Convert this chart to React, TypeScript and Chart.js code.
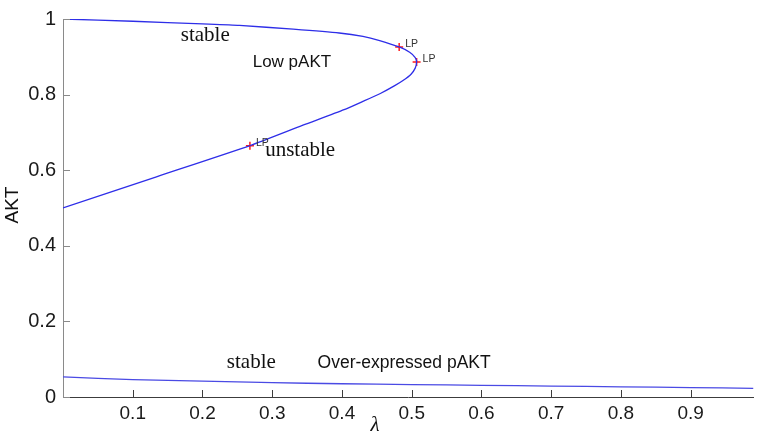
import React, { useEffect, useRef } from "react";
import { Chart, registerables } from "chart.js";

Chart.register(...registerables);

// Fold branch (upper stable branch -> limit points -> lower unstable branch)
const foldLambda = [0, 0.1, 0.2, 0.253, 0.33, 0.396, 0.43, 0.454, 0.482, 0.497, 0.505, 0.507, 0.505, 0.499, 0.488, 0.475, 0.455, 0.43, 0.403, 0.344, 0.268, 0.134, 0];
const foldAkt = [1.0, 0.994, 0.987, 0.983, 0.973, 0.963, 0.954, 0.943, 0.926, 0.912, 0.898, 0.886, 0.870, 0.854, 0.838, 0.823, 0.803, 0.782, 0.760, 0.719, 0.665, 0.5825, 0.5];

// Lower stable branch (over-expressed pAKT)
const lowLambda = [0, 0.1, 0.2, 0.3, 0.4, 0.5, 0.6, 0.7, 0.8, 0.9, 0.99];
const lowAkt = [0.053, 0.046, 0.042, 0.038, 0.035, 0.033, 0.031, 0.029, 0.027, 0.025, 0.023];

// Limit points
const lpLambda = [0.482, 0.507, 0.268];
const lpAkt = [0.926, 0.886, 0.665];
const lpLabels = ["LP", "LP", "LP"];

// Axis ticks
const xTickValues = [0.1, 0.2, 0.3, 0.4, 0.5, 0.6, 0.7, 0.8, 0.9];
const xTickLabels = ["0.1", "0.2", "0.3", "0.4", "0.5", "0.6", "0.7", "0.8", "0.9"];
const yTickValues = [0, 0.2, 0.4, 0.6, 0.8, 1];
const yTickLabels = ["0", "0.2", "0.4", "0.6", "0.8", "1"];

// Annotation texts (data coordinates)
const notes = [
  { text: "stable", x: 0.204, y: 0.941, font: "21px 'Liberation Serif'", align: "center" },
  { text: "Low pAKT", x: 0.272, y: 0.873, font: "17px 'Liberation Sans'", align: "left" },
  { text: "unstable", x: 0.340, y: 0.637, font: "21px 'Liberation Serif'", align: "center" },
  { text: "stable", x: 0.270, y: 0.0754, font: "21px 'Liberation Serif'", align: "center" },
  { text: "Over-expressed pAKT", x: 0.365, y: 0.078, font: "17.5px 'Liberation Sans'", align: "left" },
];

const pts = (xs: number[], ys: number[]) => xs.map((x, i) => ({ x, y: ys[i] }));

const decorPlugin = {
  id: "decor",
  afterDatasetsDraw(chart: any) {
    const { ctx, chartArea, scales } = chart;
    const xs = scales.x;
    const ys = scales.y;
    ctx.save();
    // inward ticks
    ctx.lineWidth = 1;
    ctx.strokeStyle = "#3c3c3c";
    xTickValues.forEach((v) => {
      const px = Math.round(xs.getPixelForValue(v)) + 0.5;
      ctx.beginPath();
      ctx.moveTo(px, chartArea.bottom);
      ctx.lineTo(px, chartArea.bottom - 7);
      ctx.stroke();
    });
    ctx.strokeStyle = "#8a8a8a";
    yTickValues.forEach((v) => {
      const py = Math.round(ys.getPixelForValue(v)) + 0.5;
      ctx.beginPath();
      ctx.moveTo(chartArea.left, py);
      ctx.lineTo(chartArea.left + 7, py);
      ctx.stroke();
    });
    // annotations
    ctx.fillStyle = "#111";
    ctx.textBaseline = "alphabetic";
    notes.forEach((n) => {
      ctx.font = n.font;
      ctx.textAlign = n.align;
      ctx.fillText(n.text, xs.getPixelForValue(n.x), ys.getPixelForValue(n.y));
    });
    // LP labels
    ctx.font = "10.5px 'Liberation Sans'";
    ctx.textAlign = "left";
    ctx.fillStyle = "#333";
    lpLambda.forEach((v, i) => {
      ctx.fillText(lpLabels[i], xs.getPixelForValue(v) + 6, ys.getPixelForValue(lpAkt[i]) + 0);
    });
    // axis titles
    ctx.fillStyle = "#111";
    ctx.font = "19px 'Liberation Sans'";
    ctx.textAlign = "center";
    ctx.textBaseline = "middle";
    ctx.save();
    ctx.translate(13, 205);
    ctx.rotate(-Math.PI / 2);
    ctx.fillText("AKT", 0, 0);
    ctx.restore();
    ctx.font = "italic 21px 'Liberation Serif'";
    ctx.fillText("λ", 375, 425);
    ctx.restore();
  },
};

export default function App() {
  const ref = useRef<HTMLCanvasElement>(null);
  useEffect(() => {
    document.body.style.margin = "0";
    const canvas = ref.current!;
    const chart = new Chart(canvas, {
      type: "scatter",
      data: {
        datasets: [
          {
            data: pts(foldLambda, foldAkt),
            showLine: true,
            borderColor: "#2e2ee8",
            borderWidth: 1.3,
            pointRadius: 0,
            tension: 0.2,
          },
          {
            data: pts(lowLambda, lowAkt),
            showLine: true,
            borderColor: "#4a4ae4",
            borderWidth: 1.3,
            pointRadius: 0,
            tension: 0.2,
          },
          {
            data: pts(lpLambda, lpAkt),
            showLine: false,
            pointStyle: "cross",
            pointRadius: 4,
            borderColor: "#ff1a1a",
            borderWidth: 1.5,
          },
        ],
      },
      options: {
        responsive: false,
        animation: false,
        devicePixelRatio: 1,
        layout: { padding: { top: 12, right: 3, left: 0, bottom: 0 } },
        plugins: { legend: { display: false }, tooltip: { enabled: false } },
        scales: {
          x: {
            type: "linear",
            min: 0,
            max: 0.99,
            afterBuildTicks: (s: any) => {
              s.ticks = xTickValues.map((v) => ({ value: v }));
            },
            afterFit: (s: any) => {
              s.height = 40;
            },
            grid: { display: false, drawTicks: false },
            border: { display: true, color: "#3c3c3c", width: 1 },
            ticks: {
              font: { family: "'Liberation Sans'", size: 19 },
              color: "#1a1a1a",
              padding: 5,
              maxRotation: 0,
              autoSkip: false,
              callback: (_v: any, i: number) => xTickLabels[i],
            },
          },
          y: {
            type: "linear",
            min: 0,
            max: 1,
            afterBuildTicks: (s: any) => {
              s.ticks = yTickValues.map((v) => ({ value: v }));
            },
            afterFit: (s: any) => {
              s.width = 63;
            },
            grid: { display: false, drawTicks: false },
            border: { display: true, color: "#8a8a8a", width: 1 },
            ticks: {
              font: { family: "'Liberation Sans'", size: 20 },
              color: "#1a1a1a",
              padding: 7,
              autoSkip: false,
              callback: (_v: any, i: number) => yTickLabels[i],
            },
          },
        },
      },
      plugins: [decorPlugin],
    });
    return () => chart.destroy();
  }, []);
  return <canvas ref={ref} width={759} height={437} style={{ display: "block" }} />;
}
